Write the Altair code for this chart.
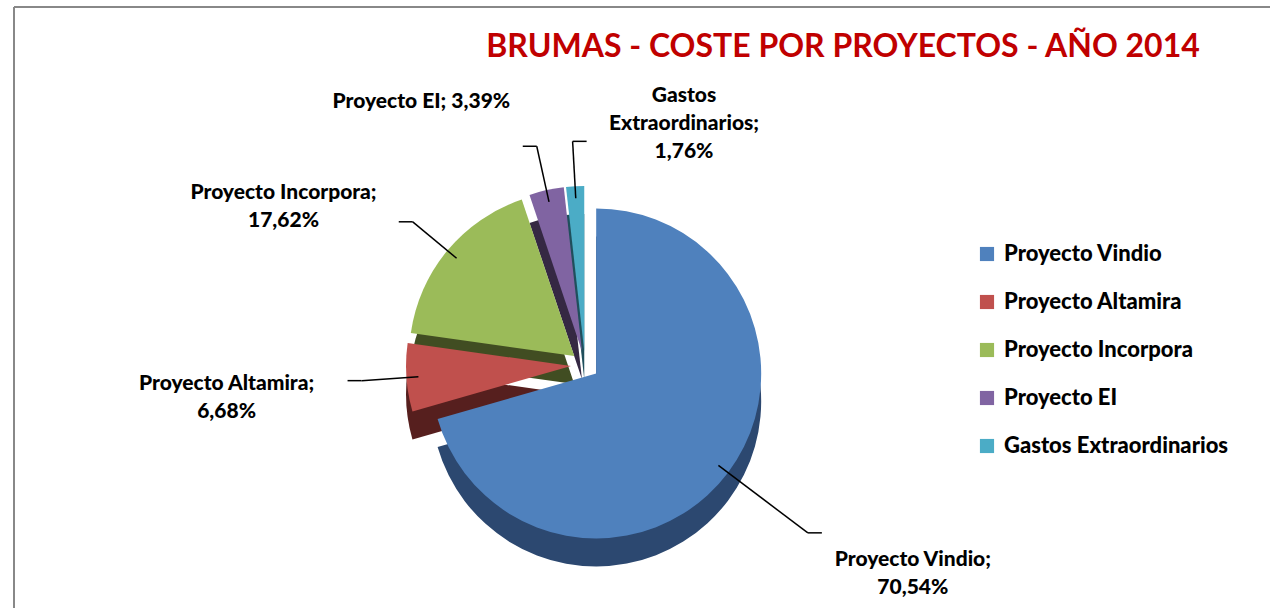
import altair as alt
import pandas as pd

title_text = "BRUMAS - COSTE POR PROYECTOS - AÑO 2014"
categories = ["Proyecto Vindio", "Proyecto Altamira", "Proyecto Incorpora",
              "Proyecto EI", "Gastos Extraordinarios"]
values = [70.54, 6.68, 17.62, 3.39, 1.76]
label_names = ["Proyecto Vindio;", "Proyecto Altamira;", "Proyecto Incorpora;",
               "Proyecto EI;", "Gastos\nExtraordinarios;"]
label_seps = ["\n", "\n", "\n", " ", "\n"]
top_colors = ["#4F81BD", "#C0504D", "#9BBB59", "#8064A2", "#4BACC6"]
side_colors = ["#2C4870", "#561F1E", "#414D22", "#352843", "#1F4F5C"]

pct = [f"{v:.2f}".replace(".", ",") + "%" for v in values]
labels = [n + s + p for n, s, p in zip(label_names, label_seps, pct)]

df = pd.DataFrame({
    "idx": list(range(len(categories))),
    "cat": categories,
    "val": values,
    "label": labels,
    "side": side_colors,
})

CX, CY, R, EXP, DEPTH = 585, 365, 165, 14, 28

base = alt.Chart(df).transform_window(
    cum="sum(val)", sort=[alt.SortField("idx")], frame=[None, 0]
).transform_joinaggregate(
    total="sum(val)"
).transform_calculate(
    mid="(datum.cum - datum.val/2) / datum.total * 2 * PI",
).transform_calculate(
    low="cos(datum.mid) < -0.3",
    dir="sin(datum.mid) > -0.1 ? 1 : -1",
).transform_calculate(
    lr=f"{R + EXP + 45} + (datum.low ? 55 : 0)",
).transform_calculate(
    px=f"{CX} + {EXP}*sin(datum.mid)",
    py=f"{CY} - {EXP}*cos(datum.mid)",
    pyd=f"{CY} + {DEPTH} - {EXP}*cos(datum.mid)",
    sx=f"{CX} + {R + EXP - 12}*sin(datum.mid)",
    sy=f"{CY} - {R + EXP - 12}*cos(datum.mid)",
    ex=f"{CX} + datum.lr*sin(datum.mid)",
    ey=f"{CY} - datum.lr*cos(datum.mid)",
).transform_calculate(
    hx="datum.ex + datum.dir * 14",
    lx="datum.ex + datum.dir * (datum.low ? 105 : 110 + 25*abs(sin(datum.mid)))",
    ly="datum.ey - 45*cos(datum.mid)",
)

side = base.mark_arc(radius=R, stroke=None).encode(
    theta=alt.Theta("val:Q", stack=True),
    order=alt.Order("idx:Q"),
    x=alt.X("px:Q", scale=None),
    y=alt.Y("pyd:Q", scale=None),
    fill=alt.Fill("side:N", scale=None, legend=None),
)

top = base.mark_arc(radius=R, stroke=None).encode(
    theta=alt.Theta("val:Q", stack=True),
    order=alt.Order("idx:Q"),
    x=alt.X("px:Q", scale=None),
    y=alt.Y("py:Q", scale=None),
    color=alt.Color(
        "cat:N",
        scale=alt.Scale(domain=categories, range=top_colors),
        sort=None,
        legend=alt.Legend(
            title=None, orient="none", legendX=976, legendY=243,
            symbolType="square", symbolSize=200, symbolStrokeWidth=0,
            labelFontSize=22, labelFont="Lato", labelFontWeight=900,
            labelColor="#000000", rowPadding=26, labelOffset=6,
            labelLimit=400,
        ),
    ),
)

leaders = base.mark_rule(color="#000000", strokeWidth=1.5).encode(
    x=alt.X("sx:Q", scale=None), y=alt.Y("sy:Q", scale=None),
    x2="ex:Q", y2="ey:Q",
)
ticks = base.mark_rule(color="#000000", strokeWidth=1.5).encode(
    x=alt.X("ex:Q", scale=None), y=alt.Y("ey:Q", scale=None),
    x2="hx:Q",
)

texts = base.mark_text(
    align="center", baseline="middle", lineBreak="\n", fontSize=21,
    font="Lato", fontWeight=900, color="#000000", lineHeight=28,
).encode(
    x=alt.X("lx:Q", scale=None), y=alt.Y("ly:Q", scale=None),
    text="label:N",
)

title = alt.Chart(pd.DataFrame({"t": [title_text]})).mark_text(
    align="center", baseline="middle", fontSize=32, font="Lato",
    fontWeight="bold", color="#C00000",
).encode(x=alt.value(843), y=alt.value(47), text="t:N")

frame_top = alt.Chart(pd.DataFrame({"a": [0]})).mark_rule(
    color="#888888", strokeWidth=2
).encode(x=alt.value(14), x2=alt.value(1270), y=alt.value(7))
frame_left = alt.Chart(pd.DataFrame({"a": [0]})).mark_rule(
    color="#888888", strokeWidth=2
).encode(x=alt.value(14), y=alt.value(7), y2=alt.value(608))

chart = alt.layer(
    frame_top, frame_left, title, side, top, leaders, ticks, texts
).properties(
    width=1270, height=608, autosize=alt.AutoSizeParams(type="none"),
    padding=0, background="white",
).configure_view(stroke=None)

chart.save("out.html", embed_options={"renderer": "svg", "actions": False})
